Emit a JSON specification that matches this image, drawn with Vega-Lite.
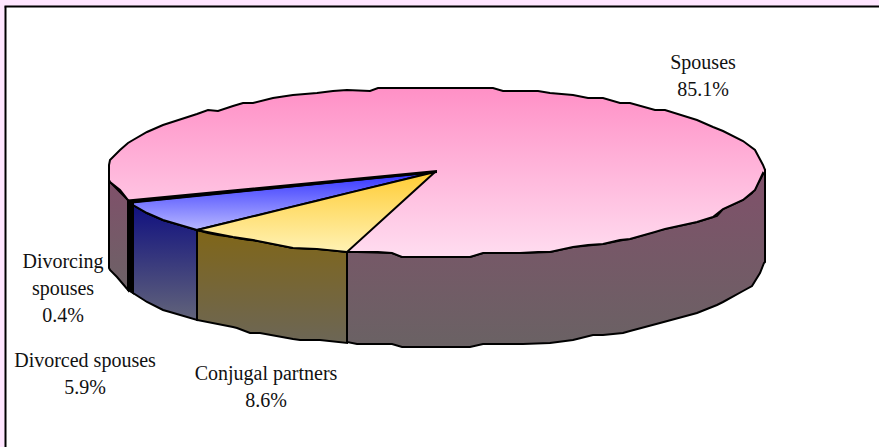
{"$schema":"https://vega.github.io/schema/vega-lite/v6.json","width":879,"height":447,"padding":0,"autosize":{"type":"none"},"background":"#FFE6FF","view":{"stroke":null},
"datasets":{
"frame":[{"x":5.5,"x2":879,"y":6.5,"y2":447}],
"frameTop":[{"x":4.5,"x2":879,"y":6.5}],
"frameLeft":[{"x":5.5,"y":6.5,"y2":447}],
"top":[[109,165,180],[110,160,182],[120,150,190],[128,143,200],[133,140,205],[147,132,213],[163,125,220],[197,114,230],[208,110,233],[218,111,235],[233,106,237],[243,103,239],[253,103,240],[273,98,244],[293,95,248],[317,93,249],[333,91,250],[347,90,252],[370,91,252],[378,88,252],[392,88,253],[402,88,257],[450,88,257],[470,88,257],[483,88,253],[493,88,253],[503,91,253],[520,91,253],[538,91,252],[550,93,252],[573,95,247],[588,98,245],[603,98,244],[620,103,240],[630,103,239],[655,110,232],[665,110,229],[697,120,222],[713,127,217],[723,131,209],[743,141,200],[755,150,190],[763,165,173],[765,170,175]],
"wallRight":[[347,252,342],[357,252,344],[392,253,344],[402,257,347],[470,257,347],[483,253,344],[523,253,344],[550,252,343],[573,247,340],[593,245,335],[603,244,335],[623,240,333],[630,239,331],[660,230,323],[697,222,313],[717,216,305],[723,209,302],[743,200,291],[752,193,286],[760,180,273],[764,172,263],[765,171,262]],
"wallLeft":[[109,180,268],[110,182,270],[117,189,277],[128,200,290]],
"wallDivorcing":[[128,200,290],[133,205,293]],
"wallDivorced":[[133,205,293],[147,213,302],[163,220,310],[170,222,312],[197,230,320]],
"wallConjugal":[[197,230,320],[233,237,327],[237,238,328],[250,240,333],[260,241,333],[293,248,339],[300,248,340],[317,249,340],[320,249,340],[347,252,343]],
"topDivorced":[[133,202,205],[147,200.6,213],[163,199,220],[197,195.6,230],[435,172,172]],
"topConjugal":[[197,230,230],[233,221.2,237],[253,216.4,240],[293,206.6,248],[317,200.8,249],[347,193.4,252],[435,172,172]],
"topDivorcing":[[128,200.5,203],[436,171,172]],
"labels":[{"label":"Spouses\n85.1%","x":703,"y":53},{"label":"Divorcing\nspouses\n0.4%","x":63,"y":252},{"label":"Divorced spouses\n5.9%","x":85,"y":351},{"label":"Conjugal partners\n8.6%","x":266,"y":364}]
},
"encoding":{},
"resolve":{"scale":{"x":"shared","y":"shared"}},
"layer":[
{"data":{"name":"frame"},"mark":{"type":"rect","fill":"white","stroke":null,"clip":true},"encoding":{"x":{"field":"x","type":"quantitative","scale":{"domain":[0,879],"nice":false,"zero":false},"axis":null},"x2":{"field":"x2"},"y":{"field":"y","type":"quantitative","scale":{"domain":[447,0],"nice":false,"zero":false},"axis":null},"y2":{"field":"y2"}}},
{"data":{"name":"frameTop"},"mark":{"type":"rule","color":"black","strokeWidth":2},"encoding":{"x":{"field":"x","type":"quantitative"},"x2":{"field":"x2"},"y":{"field":"y","type":"quantitative"}}},
{"data":{"name":"frameLeft"},"mark":{"type":"rule","color":"black","strokeWidth":2},"encoding":{"x":{"field":"x","type":"quantitative"},"y":{"field":"y","type":"quantitative"},"y2":{"field":"y2"}}},
{"data":{"name":"wallLeft"},"mark":{"type":"area","stroke":"black","strokeWidth":2,"fill":{"gradient":"linear","x1":0,"y1":0,"x2":0,"y2":1,"stops":[{"offset":0,"color":"#80506A"},{"offset":1,"color":"#6C6266"}]}},"encoding":{"x":{"field":"0","type":"quantitative"},"y":{"field":"1","type":"quantitative"},"y2":{"field":"2"}}},
{"data":{"name":"wallRight"},"mark":{"type":"area","stroke":"black","strokeWidth":2,"fill":{"gradient":"linear","x1":0,"y1":0,"x2":0,"y2":1,"stops":[{"offset":0,"color":"#80506A"},{"offset":1,"color":"#6A6264"}]}},"encoding":{"x":{"field":"0","type":"quantitative"},"y":{"field":"1","type":"quantitative"},"y2":{"field":"2"}}},
{"data":{"name":"wallDivorced"},"mark":{"type":"area","stroke":"black","strokeWidth":2,"fill":{"gradient":"linear","x1":0,"y1":0,"x2":0,"y2":1,"stops":[{"offset":0,"color":"#101080"},{"offset":1,"color":"#62647A"}]}},"encoding":{"x":{"field":"0","type":"quantitative"},"y":{"field":"1","type":"quantitative"},"y2":{"field":"2"}}},
{"data":{"name":"wallConjugal"},"mark":{"type":"area","stroke":"black","strokeWidth":2,"fill":{"gradient":"linear","x1":0,"y1":0,"x2":0,"y2":1,"stops":[{"offset":0,"color":"#806618"},{"offset":1,"color":"#6C6656"}]}},"encoding":{"x":{"field":"0","type":"quantitative"},"y":{"field":"1","type":"quantitative"},"y2":{"field":"2"}}},
{"data":{"name":"wallDivorcing"},"mark":{"type":"area","stroke":"black","strokeWidth":2,"fill":"black"},"encoding":{"x":{"field":"0","type":"quantitative"},"y":{"field":"1","type":"quantitative"},"y2":{"field":"2"}}},
{"data":{"name":"top"},"mark":{"type":"area","stroke":"black","strokeWidth":2,"fill":{"gradient":"linear","x1":0,"y1":0,"x2":0,"y2":1,"stops":[{"offset":0,"color":"#FF90C6"},{"offset":1,"color":"#FFDDF0"}]}},"encoding":{"x":{"field":"0","type":"quantitative"},"y":{"field":"1","type":"quantitative"},"y2":{"field":"2"}}},
{"data":{"name":"topDivorced"},"mark":{"type":"area","stroke":"black","strokeWidth":2,"fill":{"gradient":"linear","x1":0,"y1":0,"x2":0,"y2":1,"stops":[{"offset":0,"color":"#3030FF"},{"offset":1,"color":"#B8B8FF"}]}},"encoding":{"x":{"field":"0","type":"quantitative"},"y":{"field":"1","type":"quantitative"},"y2":{"field":"2"}}},
{"data":{"name":"topConjugal"},"mark":{"type":"area","stroke":"black","strokeWidth":2,"fill":{"gradient":"linear","x1":0,"y1":0,"x2":0,"y2":1,"stops":[{"offset":0,"color":"#FFCC33"},{"offset":1,"color":"#FFF2B4"}]}},"encoding":{"x":{"field":"0","type":"quantitative"},"y":{"field":"1","type":"quantitative"},"y2":{"field":"2"}}},
{"data":{"name":"topDivorcing"},"mark":{"type":"area","stroke":"black","strokeWidth":2,"fill":"black"},"encoding":{"x":{"field":"0","type":"quantitative"},"y":{"field":"1","type":"quantitative"},"y2":{"field":"2"}}},
{"data":{"name":"labels"},"mark":{"type":"text","font":"Liberation Serif","fontSize":20,"color":"#111111","align":"center","baseline":"top","lineBreak":"\n","lineHeight":27},"encoding":{"x":{"field":"x","type":"quantitative"},"y":{"field":"y","type":"quantitative"},"text":{"field":"label"}}}
]}
